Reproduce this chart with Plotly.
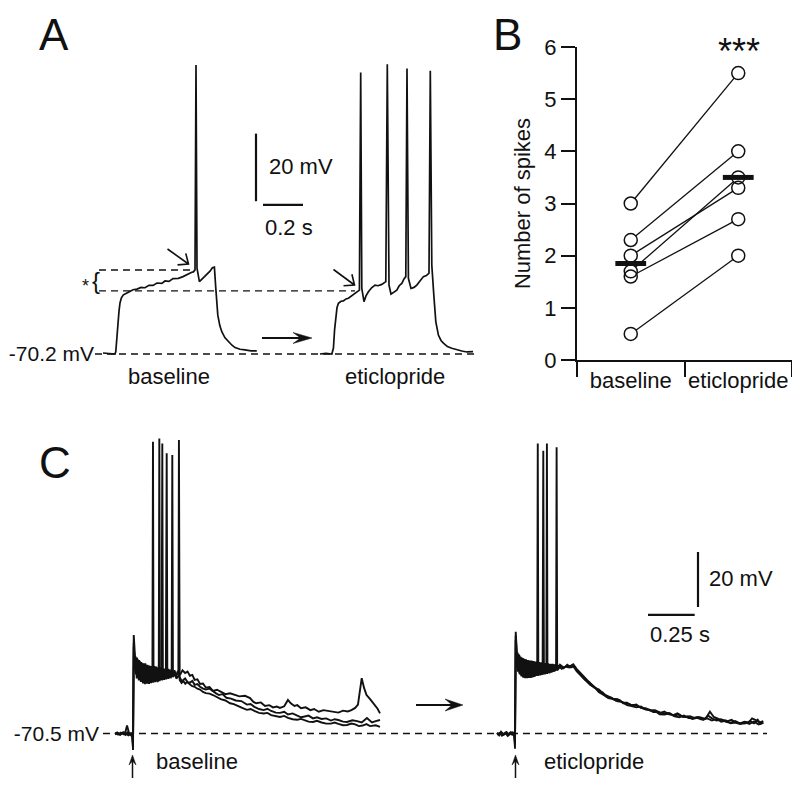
import math
import numpy as np
import plotly.graph_objects as go

# page places the figure 8px from the top-left corner, so the figure is sized to the visible area
OFF = 8
W, H = 800 - OFF, 787 - OFF
FONT = "Liberation Sans, Arial, Helvetica, sans-serif"
INK = "#111111"

# ---------------- Panel A data (time in s from trace start, membrane potential in mV)
A_REST = -70.2
a_base_t = [0.000, 0.030, 0.060, 0.064, 0.069, 0.074, 0.080, 0.085, 0.092, 0.102, 0.114, 0.127, 0.15, 0.17,
            0.19, 0.21, 0.23, 0.25, 0.27, 0.294, 0.31, 0.33, 0.35, 0.377, 0.40, 0.42, 0.444, 0.452, 0.460,
            0.465, 0.470, 0.482, 0.50, 0.519, 0.535, 0.547, 0.557, 0.564, 0.574, 0.584, 0.594, 0.61, 0.627,
            0.645, 0.660, 0.685, 0.710, 0.74, 0.769]
a_base_v = [-69.9, -70.1, -70.2, -69.5, -65.5, -60.6, -57.5, -55.1, -53.6, -52.7, -52.2, -51.9, -51.2, -51.0,
            -50.5, -50.6, -49.9, -49.9, -49.2, -49.3, -48.6, -48.7, -47.9, -47.8, -47.3, -46.6, -46.0, -45.9,
            -45.3, 15.3, -44.8, -48.8, -47.8, -46.8, -45.7, -44.7, -44.5, -50.8, -58.7, -61.8, -63.6, -65.4,
            -66.6, -67.6, -68.3, -68.8, -69.0, -69.3, -69.3]
a_etic_t = [0.000, 0.030, 0.059, 0.067, 0.073, 0.079, 0.085, 0.092, 0.105, 0.117, 0.130, 0.142, 0.158, 0.175,
            0.187, 0.197, 0.2035, 0.209, 0.220, 0.230, 0.242, 0.258, 0.275, 0.290, 0.309, 0.320, 0.329, 0.3365,
            0.345, 0.355, 0.370, 0.384, 0.396, 0.409, 0.420, 0.429, 0.435, 0.442, 0.455, 0.470, 0.484, 0.500,
            0.517, 0.532, 0.545, 0.5515, 0.559, 0.569, 0.579, 0.592, 0.605, 0.617, 0.637, 0.659, 0.685, 0.709,
            0.735, 0.765]
a_etic_v = [-70.2, -70.0, -70.2, -68.5, -63.0, -58.7, -56.5, -55.2, -54.6, -54.5, -53.9, -53.7, -53.0, -52.5,
            -52.0, -51.3, 13.1, -50.8, -54.7, -53.0, -51.8, -50.6, -49.8, -50.0, -49.6, -49.0, -48.8, 15.5,
            -49.8, -52.5, -51.8, -51.3, -50.0, -49.3, -48.0, -47.3, 14.3, -47.8, -50.8, -50.5, -49.8, -48.5,
            -47.3, -47.0, -46.3, 13.6, -43.9, -52.7, -60.6, -64.6, -66.2, -67.0, -68.0, -68.5, -69.0, -69.3,
            -69.6, -69.5]
a_threshold_levels = [-45.35, -51.5]   # dashed reference levels (mV)

# ---------------- Panel B data
b_categories = ["baseline", "eticlopride"]
b_baseline = [3.0, 2.3, 2.0, 1.7, 1.6, 0.5]
b_eticlopride = [5.5, 4.0, 3.3, 3.5, 2.7, 2.0]
b_yticks = [0, 1, 2, 3, 4, 5, 6]

# ---------------- Panel C data (time in s from stimulus, mV), three sweeps per condition
C_REST = -70.5
c_base_1 = [(-0.096, -70.3), (-0.080, -70.9), (-0.065, -70.2), (-0.050, -70.8), (-0.040, -69.8), (-0.032, -67.6),
            (-0.022, -70.2), (-0.010, -71.2), (-0.003, -70.6), (0.000, -76.5), (0.004, -34.7), (0.011, -41.5),
            (0.016, -49.0), (0.022, -43.0), (0.027, -50.0), (0.033, -43.8), (0.038, -51.0), (0.044, -44.5),
            (0.049, -51.5), (0.055, -45.0), (0.060, -52.0), (0.066, -45.0), (0.071, -52.0), (0.077, -45.5),
            (0.082, -52.2), (0.088, -45.8), (0.093, -51.8), (0.099, -46.0), (0.104, -47.5), (0.107, 35.6),
            (0.110, -51.5), (0.115, -46.0), (0.121, -51.5), (0.126, -46.2), (0.132, -51.8), (0.137, -46.5),
            (0.143, -51.5), (0.148, -46.5), (0.154, -51.0), (0.159, -46.8), (0.165, -50.8), (0.170, -47.0),
            (0.176, -48.5), (0.1805, 31.4), (0.184, -50.5), (0.190, -47.0), (0.198, -50.2), (0.206, -47.2),
            (0.214, -50.0), (0.222, -47.5), (0.230, -49.8), (0.240, -47.8), (0.252, -49.2), (0.265, -47.5),
            (0.279, -48.5), (0.292, -48.0), (0.305, -49.5), (0.318, -49.2), (0.33, -51.0), (0.345, -50.8),
            (0.359, -52.5), (0.375, -52.3), (0.39, -53.8), (0.41, -53.6), (0.428, -55.0), (0.45, -54.6),
            (0.47, -55.3), (0.495, -56.2), (0.52, -55.9), (0.545, -56.4), (0.57, -57.0), (0.600, -56.8),
            (0.627, -57.6), (0.645, -59.0), (0.66, -59.5), (0.685, -59.2), (0.707, -60.5), (0.73, -60.2),
            (0.75, -61.0), (0.77, -60.7), (0.787, -61.2), (0.81, -60.6), (0.83, -58.3), (0.845, -59.5),
            (0.865, -60.5), (0.88, -60.2), (0.90, -61.3), (0.925, -61.0), (0.95, -62.0), (0.97, -61.6),
            (0.995, -62.6), (1.02, -62.0), (1.05, -62.3), (1.075, -62.8), (1.10, -62.9), (1.125, -62.2),
            (1.15, -62.5), (1.17, -62.0), (1.19, -61.2), (1.205, -60.0), (1.225, -50.4), (1.238, -54.0),
            (1.251, -56.5), (1.27, -58.0), (1.286, -59.5), (1.310, -61.5), (1.323, -63.2)]
c_base_2 = [(-0.096, -70.6), (-0.085, -70.1), (-0.070, -70.9), (-0.055, -70.3), (-0.040, -71.0), (-0.030, -70.1),
            (-0.018, -70.9), (-0.006, -70.3), (0.000, -75.5), (0.004, -37.5), (0.009, -46.5), (0.014, -42.5),
            (0.020, -50.5), (0.025, -43.5), (0.031, -51.2), (0.036, -44.2), (0.042, -51.8), (0.047, -44.8),
            (0.053, -52.3), (0.058, -45.2), (0.064, -52.6), (0.069, -45.5), (0.075, -52.4), (0.080, -45.8),
            (0.086, -52.5), (0.091, -46.0), (0.097, -52.2), (0.102, -46.2), (0.108, -52.0), (0.113, -46.5),
            (0.119, -51.8), (0.124, -46.4), (0.130, -51.6), (0.136, -46.8), (0.138, -48.0), (0.141, 36.8),
            (0.144, -51.0), (0.150, -46.6), (0.156, -51.2), (0.161, -46.9), (0.167, -51.0), (0.172, -47.0),
            (0.178, -50.8), (0.184, -47.2), (0.190, -50.6), (0.196, -47.4), (0.202, -50.4), (0.207, -48.5),
            (0.2105, 30.8), (0.214, -50.0), (0.222, -48.0), (0.232, -50.5), (0.245, -49.5), (0.262, -51.5),
            (0.279, -50.5), (0.292, -51.8), (0.305, -52.0), (0.318, -51.4), (0.33, -52.8), (0.345, -52.5),
            (0.359, -53.5), (0.375, -54.2), (0.39, -54.5), (0.41, -54.2), (0.428, -55.2), (0.445, -55.9),
            (0.46, -56.5), (0.48, -56.2), (0.50, -57.5), (0.525, -57.8), (0.55, -58.5), (0.58, -58.7),
            (0.61, -60.0), (0.63, -59.8), (0.65, -60.8), (0.675, -61.6), (0.70, -62.0), (0.72, -61.5),
            (0.74, -62.3), (0.765, -62.9), (0.787, -63.0), (0.81, -62.6), (0.83, -63.6), (0.855, -63.2),
            (0.88, -64.0), (0.90, -64.6), (0.92, -64.3), (0.94, -64.0), (0.964, -65.0), (0.985, -64.6),
            (1.01, -65.2), (1.035, -65.0), (1.06, -65.8), (1.08, -65.3), (1.10, -65.6), (1.125, -66.2),
            (1.146, -66.3), (1.175, -65.7), (1.20, -66.0), (1.225, -66.5), (1.253, -64.9), (1.28, -66.5),
            (1.30, -66.0), (1.323, -65.6)]
c_base_3 = [(-0.096, -70.8), (-0.082, -70.4), (-0.068, -71.0), (-0.052, -70.0), (-0.038, -70.6), (-0.025, -71.2),
            (-0.012, -70.5), (-0.004, -71.4), (0.000, -74.0), (0.004, -39.0), (0.010, -44.5), (0.015, -48.0),
            (0.021, -43.0), (0.026, -49.5), (0.032, -44.0), (0.037, -50.5), (0.043, -45.0), (0.048, -51.0),
            (0.054, -45.5), (0.059, -51.4), (0.065, -46.0), (0.070, -51.8), (0.076, -46.2), (0.081, -52.0),
            (0.087, -46.4), (0.092, -51.6), (0.098, -46.5), (0.103, -51.4), (0.109, -46.6), (0.114, -51.2),
            (0.120, -46.8), (0.125, -51.0), (0.131, -47.0), (0.136, -50.8), (0.142, -47.2), (0.147, -50.6),
            (0.153, -47.6), (0.157, 35.0), (0.160, -50.5), (0.166, -47.5), (0.172, -50.3), (0.178, -47.8),
            (0.184, -50.2), (0.190, -48.0), (0.196, -50.0), (0.202, -48.2), (0.208, -49.8), (0.214, -48.3),
            (0.220, -49.7), (0.226, -48.4), (0.232, -49.6), (0.238, -48.5), (0.243, -49.0), (0.246, 36.2),
            (0.250, -51.0), (0.26, -52.1), (0.27, -51.4), (0.28, -52.4), (0.29, -51.8), (0.30, -52.5),
            (0.315, -53.2), (0.33, -53.5), (0.345, -54.2), (0.359, -54.5), (0.375, -55.4), (0.39, -55.8),
            (0.41, -56.0), (0.428, -56.5), (0.45, -57.4), (0.47, -58.0), (0.495, -58.5), (0.52, -59.5),
            (0.54, -59.8), (0.56, -60.5), (0.585, -61.2), (0.61, -61.9), (0.63, -61.6), (0.65, -62.3),
            (0.675, -63.0), (0.70, -63.2), (0.72, -63.0), (0.74, -63.8), (0.765, -64.3), (0.787, -64.5),
            (0.81, -64.1), (0.83, -64.8), (0.855, -65.3), (0.88, -65.5), (0.90, -65.2), (0.92, -65.8),
            (0.94, -66.2), (0.964, -66.3), (0.985, -65.9), (1.01, -66.5), (1.035, -66.9), (1.06, -66.9),
            (1.08, -66.5), (1.10, -67.0), (1.125, -67.5), (1.146, -67.4), (1.17, -66.9), (1.19, -67.2),
            (1.21, -67.8), (1.23, -67.6), (1.25, -67.1), (1.27, -67.8), (1.30, -67.5), (1.323, -68.1)]
c_etic_1 = [(-0.096, -70.4), (-0.085, -71.2), (-0.075, -69.9), (-0.064, -71.0), (-0.052, -70.2), (-0.040, -71.3),
            (-0.028, -70.3), (-0.016, -70.9), (-0.005, -70.4), (0.000, -74.5), (0.004, -33.5), (0.009, -40.0),
            (0.014, -46.5), (0.019, -41.5), (0.024, -48.5), (0.029, -42.5), (0.034, -49.5), (0.039, -43.0),
            (0.044, -50.0), (0.049, -43.3), (0.054, -50.2), (0.059, -43.5), (0.064, -50.3), (0.069, -43.8),
            (0.074, -50.3), (0.079, -44.0), (0.084, -50.2), (0.089, -44.0), (0.094, -50.0), (0.099, -44.2),
            (0.104, -49.8), (0.109, -44.3), (0.114, -49.6), (0.119, -45.5), (0.122, 35.0), (0.125, -49.5),
            (0.130, -44.5), (0.136, -49.4), (0.142, -44.6), (0.148, -49.2), (0.154, -44.8), (0.160, -49.0),
            (0.166, -45.0), (0.172, -48.8), (0.178, -45.0), (0.184, -48.6), (0.190, -45.2), (0.196, -48.4),
            (0.202, -45.2), (0.208, -48.0), (0.214, -45.4), (0.220, -46.5), (0.223, 33.6), (0.226, -47.5),
            (0.241, -45.5), (0.26, -46.5), (0.28, -46.0), (0.30, -45.8), (0.312, -45.3), (0.33, -47.0),
            (0.35, -48.5), (0.375, -50.5), (0.402, -52.2), (0.425, -53.5), (0.45, -55.0), (0.47, -55.6),
            (0.491, -57.1), (0.515, -57.5), (0.54, -58.5), (0.56, -58.3), (0.58, -59.5), (0.60, -59.6),
            (0.62, -60.0), (0.645, -60.2), (0.670, -60.8), (0.69, -61.5), (0.72, -61.8), (0.74, -62.7),
            (0.759, -62.6), (0.78, -63.0), (0.80, -62.5), (0.825, -63.5), (0.848, -63.8), (0.87, -63.2),
            (0.89, -64.0), (0.915, -64.5), (0.937, -64.2), (0.96, -64.8), (0.99, -64.6), (1.02, -65.2),
            (1.044, -62.6), (1.065, -64.5), (1.09, -65.2), (1.116, -65.6), (1.14, -66.0), (1.16, -65.5),
            (1.18, -66.4), (1.205, -66.8), (1.23, -66.2), (1.25, -66.6), (1.27, -65.0), (1.295, -65.8),
            (1.31, -66.5), (1.330, -66.0)]
c_etic_2 = [(-0.096, -70.9), (-0.082, -70.3), (-0.070, -71.3), (-0.058, -70.5), (-0.045, -70.0), (-0.034, -70.8),
            (-0.022, -70.0), (-0.010, -71.0), (-0.003, -70.5), (0.000, -73.5), (0.004, -36.5), (0.008, -45.0),
            (0.013, -41.0), (0.018, -47.5), (0.023, -42.0), (0.028, -48.5), (0.033, -42.8), (0.038, -49.3),
            (0.043, -43.2), (0.048, -49.8), (0.053, -43.5), (0.058, -50.0), (0.063, -43.8), (0.068, -50.0),
            (0.073, -44.0), (0.078, -50.1), (0.083, -44.2), (0.088, -50.0), (0.093, -44.3), (0.098, -49.8),
            (0.103, -44.5), (0.108, -49.6), (0.113, -44.6), (0.118, -49.4), (0.123, -44.7), (0.128, -49.2),
            (0.133, -44.8), (0.138, -49.0), (0.143, -45.0), (0.148, -47.0), (0.1516, 32.3), (0.155, -48.8),
            (0.161, -45.0), (0.167, -48.6), (0.173, -45.2), (0.179, -48.4), (0.185, -45.3), (0.191, -48.2),
            (0.197, -45.4), (0.203, -48.0), (0.209, -45.6), (0.215, -47.8), (0.222, -45.8), (0.232, -47.0),
            (0.245, -46.0), (0.26, -46.8), (0.28, -45.5), (0.30, -46.5), (0.315, -46.0), (0.33, -47.8),
            (0.355, -49.5), (0.38, -51.5), (0.402, -52.8), (0.43, -54.0), (0.45, -55.5), (0.475, -56.5),
            (0.50, -57.6), (0.525, -58.0), (0.55, -58.8), (0.575, -59.0), (0.60, -60.2), (0.625, -60.5),
            (0.65, -61.0), (0.675, -60.7), (0.70, -61.8), (0.725, -62.0), (0.75, -62.3), (0.775, -63.5),
            (0.80, -63.6), (0.83, -63.2), (0.855, -64.3), (0.88, -64.6), (0.905, -64.0), (0.93, -64.9),
            (0.955, -65.0), (0.98, -64.5), (1.01, -65.5), (1.035, -64.0), (1.055, -65.0), (1.08, -65.8),
            (1.105, -65.4), (1.13, -66.3), (1.155, -66.6), (1.18, -66.0), (1.21, -67.0), (1.235, -66.8),
            (1.26, -66.0), (1.28, -66.8), (1.30, -65.5), (1.315, -67.0), (1.330, -66.5)]
c_etic_3 = [(-0.096, -70.2), (-0.085, -70.8), (-0.072, -70.1), (-0.060, -71.0), (-0.048, -70.5), (-0.036, -71.2),
            (-0.024, -70.6), (-0.012, -70.1), (-0.004, -70.9), (0.000, -76.0), (0.004, -35.0), (0.010, -42.5),
            (0.015, -48.0), (0.020, -42.8), (0.025, -49.0), (0.030, -43.2), (0.035, -49.8), (0.040, -43.6),
            (0.045, -50.2), (0.050, -43.9), (0.055, -50.4), (0.060, -44.1), (0.065, -50.4), (0.070, -44.3),
            (0.075, -50.3), (0.080, -44.4), (0.085, -50.2), (0.090, -44.5), (0.095, -50.0), (0.100, -44.6),
            (0.105, -49.8), (0.110, -44.7), (0.115, -49.6), (0.120, -44.8), (0.125, -49.4), (0.130, -44.9),
            (0.135, -49.2), (0.140, -45.0), (0.145, -49.0), (0.150, -45.1), (0.155, -48.8), (0.160, -45.2),
            (0.165, -48.6), (0.168, -47.0), (0.171, 35.0), (0.174, -48.5), (0.180, -45.3), (0.186, -48.3),
            (0.192, -45.4), (0.198, -48.1), (0.204, -45.5), (0.210, -47.9), (0.216, -45.6), (0.224, -47.5),
            (0.235, -46.0), (0.25, -47.0), (0.27, -46.2), (0.29, -46.5), (0.31, -46.0), (0.33, -47.5),
            (0.35, -49.0), (0.375, -51.0), (0.40, -52.0), (0.425, -53.8), (0.45, -54.5), (0.475, -56.2),
            (0.50, -57.0), (0.525, -57.8), (0.55, -58.0), (0.575, -59.2), (0.60, -59.3), (0.625, -60.3),
            (0.65, -60.0), (0.675, -61.2), (0.70, -61.3), (0.725, -62.2), (0.75, -62.0), (0.775, -62.8),
            (0.80, -63.2), (0.825, -63.0), (0.85, -64.0), (0.875, -63.6), (0.90, -64.5), (0.925, -64.3),
            (0.95, -65.2), (0.975, -64.8), (1.00, -65.4), (1.03, -65.0), (1.055, -65.8), (1.08, -65.2),
            (1.105, -66.2), (1.13, -65.8), (1.155, -66.8), (1.18, -66.5), (1.205, -67.0), (1.23, -66.3),
            (1.255, -67.0), (1.28, -66.2), (1.305, -67.2), (1.330, -66.6)]

# ---------------- layout constants (pixels of the 800x787 reference canvas)
A_PX_PER_S, A_PX_PER_MV = 200.0, 3.38
A_T0_PX, A_REST_PY = 103.0, 354.0
A_ETIC_OFFSET = 1.085          # s, horizontal placement of the second trace
A_DOM_X, A_DOM_Y = (95, 478), (40, 365)

C_PX_PER_S, C_PX_PER_MV = 186.7, 2.75
C_T0_PX, C_REST_PY = 133.0, 733.5
C_ETIC_OFFSET = 2.046
C_DOM_X, C_DOM_Y = (100, 775), (420, 765)

B_DOM_X, B_DOM_Y = (577, 792), (47, 360)


def pap(xp, yp):
    return (xp - OFF) / W, 1 - (yp - OFF) / H


def dom_x(d):
    return [(d[0] - OFF) / W, (d[1] - OFF) / W]


def dom_y(d):
    return [1 - (d[1] - OFF) / H, 1 - (d[0] - OFF) / H]


def rng_x(d, t0, pps):
    return [(d[0] - t0) / pps, (d[1] - t0) / pps]


def rng_y(d, rest, rest_py, ppm):
    return [rest - (d[1] - rest_py) / ppm, rest + (rest_py - d[0]) / ppm]


fig = go.Figure()
LW = 1.7

# Panel A traces
fig.add_trace(go.Scatter(x=a_base_t, y=a_base_v, xaxis="x", yaxis="y", mode="lines",
                         line=dict(color=INK, width=LW)))
fig.add_trace(go.Scatter(x=[t + A_ETIC_OFFSET for t in a_etic_t], y=a_etic_v, xaxis="x", yaxis="y",
                         mode="lines", line=dict(color=INK, width=LW)))

# Panel C traces
for sweep in (c_base_1, c_base_2, c_base_3):
    fig.add_trace(go.Scatter(x=[p[0] for p in sweep], y=[p[1] for p in sweep], xaxis="x3", yaxis="y3",
                             mode="lines", line=dict(color=INK, width=1.9)))
for sweep in (c_etic_1, c_etic_2, c_etic_3):
    fig.add_trace(go.Scatter(x=[p[0] + C_ETIC_OFFSET for p in sweep], y=[p[1] for p in sweep],
                             xaxis="x3", yaxis="y3", mode="lines", line=dict(color=INK, width=1.9)))

# Panel B: paired lines, circles, means
lx, ly = [], []
for b, e in zip(b_baseline, b_eticlopride):
    lx += [b_categories[0], b_categories[1], None]
    ly += [b, e, None]
fig.add_trace(go.Scatter(x=lx, y=ly, xaxis="x2", yaxis="y2", mode="lines",
                         line=dict(color=INK, width=1.3), cliponaxis=False))
allx = [b_categories[0]] * len(b_baseline) + [b_categories[1]] * len(b_eticlopride)
ally = b_baseline + b_eticlopride
fig.add_trace(go.Scatter(x=allx, y=ally, xaxis="x2", yaxis="y2", mode="markers", cliponaxis=False,
                         marker=dict(symbol="circle", size=13, color="white", line=dict(width=0))))
fig.add_trace(go.Scatter(x=allx, y=ally, xaxis="x2", yaxis="y2", mode="markers", cliponaxis=False,
                         marker=dict(symbol="circle-open", size=13, color=INK, line=dict(width=1.5, color=INK))))
fig.add_trace(go.Scatter(x=b_categories, y=[float(np.mean(b_baseline)), float(np.mean(b_eticlopride))],
                         xaxis="x2", yaxis="y2", mode="markers", cliponaxis=False,
                         marker=dict(symbol="line-ew", size=22, color=INK, line=dict(width=5, color=INK))))

tickfont = dict(family=FONT, size=22, color=INK)
restfont = dict(family=FONT, size=21, color=INK)
fig.update_layout(
    template="none", width=W, height=H, margin=dict(l=0, r=0, t=0, b=0),
    paper_bgcolor="white", plot_bgcolor="rgba(0,0,0,0)", showlegend=False,
    font=dict(family=FONT, size=22, color=INK),
    xaxis=dict(domain=dom_x(A_DOM_X), range=rng_x(A_DOM_X, A_T0_PX, A_PX_PER_S), visible=False,
               anchor="y", automargin=False),
    yaxis=dict(domain=dom_y(A_DOM_Y), range=rng_y(A_DOM_Y, A_REST, A_REST_PY, A_PX_PER_MV), anchor="x",
               tickvals=[A_REST], ticktext=["%.1f mV" % A_REST], ticks="", showline=False, showgrid=False,
               zeroline=False, tickfont=restfont, automargin=False),
    xaxis2=dict(domain=dom_x(B_DOM_X), type="category", categoryorder="array", categoryarray=b_categories,
                range=[-0.5, 1.5], tickson="boundaries", ticks="outside", ticklen=15, tickwidth=2,
                tickcolor=INK, showline=True, linewidth=2, linecolor=INK, showgrid=False, zeroline=False,
                tickfont=tickfont, tickangle=0, anchor="y2", automargin=False),
    yaxis2=dict(domain=dom_y(B_DOM_Y), range=[0, 6], tickvals=b_yticks, ticks="outside", ticklen=14,
                tickwidth=2, tickcolor=INK, showline=True, linewidth=2, linecolor=INK, showgrid=False,
                zeroline=False, tickfont=tickfont, anchor="x2", automargin=False,
                title=dict(text="Number of spikes", font=dict(family=FONT, size=22, color=INK), standoff=8)),
    xaxis3=dict(domain=dom_x(C_DOM_X), range=rng_x(C_DOM_X, C_T0_PX, C_PX_PER_S), visible=False,
                anchor="y3", automargin=False),
    yaxis3=dict(domain=dom_y(C_DOM_Y), range=rng_y(C_DOM_Y, C_REST, C_REST_PY, C_PX_PER_MV), anchor="x3",
                tickvals=[C_REST], ticktext=["%.1f mV" % C_REST], ticks="", showline=False, showgrid=False,
                zeroline=False, tickfont=restfont, automargin=False),
)

shapes = []
DASH = "7px,5px"


def hline(xref, yref, x0, x1, y, width=1.3, dash=DASH):
    shapes.append(dict(type="line", xref=xref, yref=yref, x0=x0, x1=x1, y0=y, y1=y,
                       line=dict(color=INK, width=width, dash=dash), layer="below"))


def vline(xref, yref, x, y0, y1, width=2.2):
    shapes.append(dict(type="line", xref=xref, yref=yref, x0=x, x1=x, y0=y0, y1=y1,
                       line=dict(color=INK, width=width)))


ta = lambda p: (p - A_T0_PX) / A_PX_PER_S
tc = lambda p: (p - C_T0_PX) / C_PX_PER_S
# Panel A reference lines
hline("x", "y", ta(95), ta(477), A_REST)
hline("x", "y", ta(99), ta(193), a_threshold_levels[0])
hline("x", "y", ta(99), ta(355), a_threshold_levels[1])
# Panel A scale bars (20 mV, 0.2 s)
vline("x", "y", ta(256), -25.0, -5.0)
shapes.append(dict(type="line", xref="x", yref="y", x0=ta(263), x1=ta(263) + 0.2, y0=-26.1, y1=-26.1,
                   line=dict(color=INK, width=2.2)))
# Panel C reference line and scale bars (20 mV, 0.25 s)
hline("x3", "y3", tc(103), tc(767), C_REST)
vline("x3", "y3", tc(698), -24.5, -4.5)
shapes.append(dict(type="line", xref="x3", yref="y3", x0=tc(648), x1=tc(648) + 0.25, y0=-27.4, y1=-27.4,
                   line=dict(color=INK, width=2.2)))


def path_str(pts, close=False):
    s = ""
    for i, (x, y) in enumerate(pts):
        px_, py_ = pap(x, y)
        s += ("M" if i == 0 else "L") + "%.5f,%.5f " % (px_, py_)
    return s + ("Z" if close else "")


def barb_arrow(x0, y0, x1, y1, hl, hw, lw):
    L = math.hypot(x1 - x0, y1 - y0)
    ux, uy = (x1 - x0) / L, (y1 - y0) / L
    nx, ny = -uy, ux
    base = (x1 - ux * hl * 0.6, y1 - uy * hl * 0.6)
    shapes.append(dict(type="path", xref="paper", yref="paper", path=path_str([(x0, y0), base]),
                       line=dict(color=INK, width=lw)))
    head = [(x1, y1), (x1 - ux * hl + nx * hw / 2, y1 - uy * hl + ny * hw / 2), base,
            (x1 - ux * hl - nx * hw / 2, y1 - uy * hl - ny * hw / 2)]
    shapes.append(dict(type="path", xref="paper", yref="paper", path=path_str(head, True),
                       fillcolor=INK, line=dict(color=INK, width=0.5)))


def chevron_arrow(x0, y0, x1, y1, arm, ang, lw):
    a = math.atan2(y0 - y1, x0 - x1)
    p1 = (x1 + arm * math.cos(a + ang), y1 + arm * math.sin(a + ang))
    p2 = (x1 + arm * math.cos(a - ang), y1 + arm * math.sin(a - ang))
    shapes.append(dict(type="path", xref="paper", yref="paper",
                       path=path_str([(x0, y0), (x1, y1)]) + " " + path_str([p1, (x1, y1), p2]),
                       line=dict(color=INK, width=lw)))


chevron_arrow(167.5, 249, 188.5, 264, 11, math.radians(40), 1.6)
chevron_arrow(333.5, 269.5, 354.5, 285, 11, math.radians(40), 1.6)
barb_arrow(262, 338, 312, 338, 19, 11, 2)
barb_arrow(416, 705, 463, 705, 18, 12, 2)
barb_arrow(132.5, 778, 132.5, 755, 10, 7, 1.5)
barb_arrow(515.5, 778, 515.5, 755, 10, 7, 1.5)
fig.update_layout(shapes=shapes)

annotations = []


def label(text, xp, yp, size=22, xanchor="center", yanchor="middle"):
    x, y = pap(xp, yp)
    annotations.append(dict(text=text, x=x, y=y, xref="paper", yref="paper", showarrow=False,
                            xanchor=xanchor, yanchor=yanchor, font=dict(family=FONT, size=size, color=INK)))


label("A", 54, OFF + 0.5, 44, yanchor="top")
label("B", 508, OFF + 0.5, 44, yanchor="top")
label("C", 55, 462, 44)
label(b_categories[0], 169, 377)
label(b_categories[1], 395, 377)
label(b_categories[0], 197, 761)
label(b_categories[1], 594, 761)
label("20 mV", 267, 167, xanchor="left")
label("0.2 s", 263, 228, xanchor="left")
label("20 mV", 707, 578, xanchor="left")
label("0.25 s", 648, 634, xanchor="left")
label("*", 85, 286, 18)
label("{", 96, 280, 24)
label("***", 739, 52, 36)
fig.update_layout(annotations=annotations)

fig.write_html("out.html")
